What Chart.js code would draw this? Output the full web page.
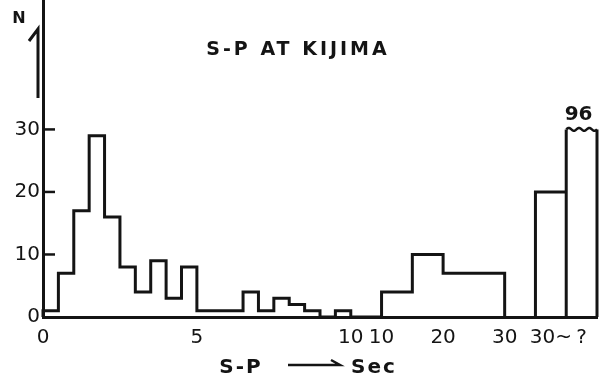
<!DOCTYPE html>
<html>
<head>
<meta charset="utf-8">
<script src="https://cdn.jsdelivr.net/npm/chart.js@4"></script>
<style>
  body { margin: 0; background: #fff; }
  #wrap { width: 600px; height: 385px; }
</style>
</head>
<body>
<div id="wrap"><canvas id="spChart"></canvas></div>
<script>
// counts per 0.5 s bin, 0 to 10 s
const fineCounts = [1, 7, 17, 29, 16, 8, 4, 9, 3, 8, 1, 1, 1, 4, 1, 3, 2, 1, 0, 1];
const fineBin = 0.5;
// coarse bins, 10 to 30 s
const coarseEdges = [10, 15, 20, 30];
const coarseCounts = [4, 10, 7];
// open-ended and unknown S-P
const tailLabels = ["30~", "?"];
const tailCounts = [20, 96];
const breakAt = 30; // taller bars are cut here
const yTicks = [0, 10, 20, 30];
const xTickLabels = ["0", "5", "10", "10", "20", "30", "30~", "?"];

const ink = "#141414";

// piecewise x axis: position units on a linear scale
const finePos = s => s / fineBin;               // 0..20
const coarsePos = s => 22 + (s - 10) * 0.4;     // 22..30
const tailPos = i => 32 + 2 * i;                // left edge of tail bar

const xTickPos = [finePos(0), finePos(5), finePos(10),
    coarsePos(10), coarsePos(20), coarsePos(30),
    tailPos(0) + 1, tailPos(1) + 1];

// outline of the stepped histogram
const histPts = [{ x: 0, y: 0 }];
fineCounts.forEach(function (c, i) {
    histPts.push({ x: finePos(i * fineBin), y: c }, { x: finePos((i + 1) * fineBin), y: c });
});
histPts.push({ x: finePos(10), y: 0 }, { x: coarsePos(10), y: 0 });
coarseCounts.forEach(function (c, i) {
    histPts.push({ x: coarsePos(coarseEdges[i]), y: c }, { x: coarsePos(coarseEdges[i + 1]), y: c });
});
histPts.push({ x: coarsePos(30), y: 0 });

// separate tail bars, the cut one has no straight top
const tailPts = [];
tailCounts.forEach(function (c, i) {
    const h = Math.min(c, breakAt);
    const x0 = tailPos(i), x1 = x0 + 2;
    tailPts.push({ x: x0, y: 0 }, { x: x0, y: h });
    if (c > breakAt) tailPts.push({ x: x0 + 1, y: null });
    tailPts.push({ x: x1, y: h }, { x: x1, y: 0 });
});

const decor = {
    id: "decor",
    afterDraw(chart) {
        const c = chart.ctx, xs = chart.scales.x, ys = chart.scales.y;
        const left = chart.chartArea.left;
        c.save();
        c.strokeStyle = ink;
        c.fillStyle = ink;
        c.lineWidth = 2.5;

        // inward ticks on the count axis
        yTicks.slice(1).forEach(function (v) {
            const y = ys.getPixelForValue(v);
            c.beginPath();
            c.moveTo(left, y);
            c.lineTo(left + 12, y);
            c.stroke();
        });

        // N with half arrow
        c.font = "bold 16px 'DejaVu Sans'";
        c.textAlign = "center";
        c.textBaseline = "middle";
        c.fillText("N", 19, 19);
        c.lineWidth = 3;
        c.beginPath();
        c.moveTo(29, 41);
        c.lineTo(38, 29);
        c.lineTo(38, 98);
        c.stroke();

        // title
        c.font = "bold 19px 'DejaVu Sans'";
        c.letterSpacing = "3px";
        c.fillText("S-P AT KIJIMA", 298, 50);
        c.letterSpacing = "0px";

        // wavy cut and count on the tall bar
        tailCounts.forEach(function (n, i) {
            if (n <= breakAt) return;
            const xa = xs.getPixelForValue(tailPos(i));
            const xb = xs.getPixelForValue(tailPos(i) + 2);
            const y = ys.getPixelForValue(breakAt);
            c.lineWidth = 2.5;
            c.beginPath();
            for (let k = 0; k <= 30; k++) {
                const t = k / 30;
                const px = xa + (xb - xa) * t;
                const py = y - 1.5 * Math.sin(t * Math.PI * 6);
                if (k === 0) c.moveTo(px, py); else c.lineTo(px, py);
            }
            c.stroke();
            c.font = "bold 20px 'DejaVu Sans'";
            c.fillText(String(n), (xa + xb) / 2 - 3, y - 15);
        });

        // axis title: S-P ---> Sec
        c.font = "bold 20px 'DejaVu Sans'";
        c.letterSpacing = "2px";
        c.fillText("S-P", 241, 368);
        c.fillText("Sec", 374, 368);
        c.letterSpacing = "0px";
        c.lineWidth = 2.5;
        c.beginPath();
        c.moveTo(288, 365);
        c.lineTo(340, 365);
        c.lineTo(331, 360);
        c.stroke();
        c.restore();
    }
};

const ctx = document.getElementById("spChart").getContext("2d");
const lineStyle = {
    showLine: true,
    borderColor: ink,
    borderWidth: 3,
    pointRadius: 0,
    fill: false,
    clip: false,
    borderJoinStyle: "miter",
    spanGaps: false
};

new Chart(ctx, {
    type: "scatter",
    data: {
        datasets: [
            Object.assign({ label: "S-P", data: histPts }, lineStyle),
            Object.assign({ label: tailLabels.join(" "), data: tailPts }, lineStyle)
        ]
    },
    options: {
        responsive: true,
        maintainAspectRatio: false,
        animation: false,
        layout: { padding: { top: 0, right: 3, left: 0, bottom: 0 } },
        plugins: { legend: { display: false }, tooltip: { enabled: false } },
        scales: {
            x: {
                type: "linear",
                min: 0,
                max: 36,
                afterBuildTicks: s => { s.ticks = xTickPos.map(v => ({ value: v })); },
                afterFit: s => { s.height = 68; s.paddingLeft = 0; s.paddingRight = 0; },
                grid: { display: false, drawTicks: false },
                border: { display: true, color: ink, width: 3 },
                ticks: {
                    autoSkip: false,
                    maxRotation: 0,
                    padding: 9,
                    color: ink,
                    font: { family: "'DejaVu Sans'", size: 20 },
                    callback: (v, i) => xTickLabels[i]
                }
            },
            y: {
                min: 0,
                max: 50.7,
                afterBuildTicks: s => { s.ticks = yTicks.map(v => ({ value: v })); },
                afterFit: s => { s.width = 43; s.paddingTop = 0; s.paddingBottom = 0; },
                grid: { display: false, drawTicks: false },
                border: { display: true, color: ink, width: 3 },
                ticks: {
                    padding: 3,
                    color: ink,
                    font: { family: "'DejaVu Sans'", size: 20 },
                    callback: v => String(v)
                }
            }
        }
    },
    plugins: [decor]
});
</script>
</body>
</html>
